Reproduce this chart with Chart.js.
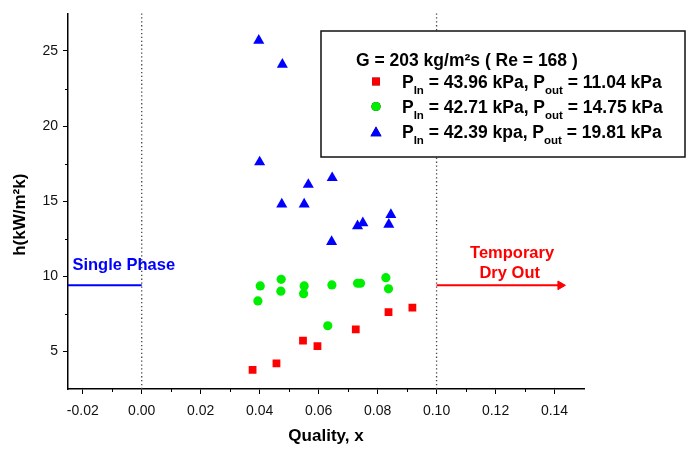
<!DOCTYPE html>
<html>
<head>
<meta charset="utf-8">
<script src="https://cdn.jsdelivr.net/npm/chart.js@4/dist/chart.umd.min.js"></script>
<style>
  html, body { margin: 0; padding: 0; background: #fff; }
  #wrap { width: 689px; height: 454px; position: relative; }
</style>
</head>
<body>
<div id="wrap"><canvas id="c" width="689" height="454"></canvas></div>
<script>
// Heat transfer coefficient vs. vapour quality, three inlet/outlet pressure sets
const redX   = [0.0376, 0.0457, 0.0547, 0.0596, 0.0726, 0.0837, 0.0918];
const redY   = [3.77, 4.21, 5.72, 5.35, 6.47, 7.61, 7.91];
const greenX = [0.0402, 0.0473, 0.0472, 0.0551, 0.0549, 0.0394, 0.0645, 0.0732, 0.0742, 0.0828, 0.0837, 0.0631];
const greenY = [9.36, 9.80, 9.01, 9.36, 8.84, 8.36, 9.43, 9.54, 9.54, 9.91, 9.17, 6.71];
const blueX  = [0.0397, 0.0477, 0.0400, 0.0646, 0.0565, 0.0475, 0.0551, 0.0845, 0.0750, 0.0732, 0.0838, 0.0644];
const blueY  = [25.7, 24.1, 17.6, 16.55, 16.1, 14.8, 14.8, 14.1, 13.55, 13.35, 13.45, 12.3];

// Regime boundaries and marker lines
const singlePhaseX = [-0.025, 0];
const dryOutX      = [0.10, 0.142];
const regimeLineY  = 9.4;
const boundaryX    = [0, 0.10];

// Axis ranges and ticks
const xRange = [-0.025, 0.15];
const yRange = [2.5, 27.5];
const xTicks = [-0.02, 0, 0.02, 0.04, 0.06, 0.08, 0.10, 0.12, 0.14];
const xMinor = [-0.01, 0.01, 0.03, 0.05, 0.07, 0.09, 0.11, 0.13];
const yTicks = [5, 10, 15, 20, 25];
const yMinor = [7.5, 12.5, 17.5, 22.5];

const xTitle = 'Quality, x';
const yTitle = 'h(kW/m²k)';
const legendTitle = 'G = 203 kg/m²s ( Re = 168 )';
const seriesLabels = [
  ['43.96 kPa', '11.04 kPa'],
  ['42.71 kPa', '14.75 kPa'],
  ['42.39 kpa', '19.81 kPa']
];

const FONT = "'Liberation Sans', Arial, sans-serif";
const RED = '#ff0000', GREEN = '#00ee00', BLUE = '#0000ff';

const pts = (xs, ys) => xs.map((x, i) => ({ x, y: ys[i] }));
const hline = (xs, y) => xs.map(x => ({ x, y }));

const datasets = [
  ...boundaryX.map(bx => ({
    data: [{ x: bx, y: yRange[1] }, { x: bx, y: yRange[0] }],
    showLine: true, borderColor: '#444', borderWidth: 1.3, borderDash: [1.3, 2.6],
    pointRadius: 0, clip: false
  })),
  {
    data: hline(singlePhaseX, regimeLineY), showLine: true,
    borderColor: BLUE, borderWidth: 2, pointRadius: 0
  },
  {
    data: hline(dryOutX, regimeLineY), showLine: true,
    borderColor: RED, borderWidth: 2,
    pointRadius: [0, 5], pointStyle: 'triangle', rotation: [0, 90],
    pointBackgroundColor: RED, pointBorderColor: RED, pointBorderWidth: 1
  },
  {
    data: pts(redX, redY), pointStyle: 'rect', pointRadius: 5.5,
    pointBackgroundColor: RED, pointBorderColor: RED, pointBorderWidth: 0
  },
  {
    data: pts(greenX, greenY), pointStyle: 'circle', pointRadius: 4.6,
    pointBackgroundColor: GREEN, pointBorderColor: GREEN, pointBorderWidth: 0
  },
  {
    data: pts(blueX, blueY), pointStyle: 'triangle', pointRadius: 6.4,
    pointBackgroundColor: BLUE, pointBorderColor: BLUE, pointBorderWidth: 0
  }
];

// Short minor tick marks between the labelled ticks, plus the vertical axis title
const axisExtras = {
  id: 'axisExtras',
  afterDraw(chart) {
    const { ctx, scales: { x, y } } = chart;
    ctx.save();
    ctx.strokeStyle = '#000';
    ctx.lineWidth = 1;
    xMinor.forEach(v => {
      const px = Math.round(x.getPixelForValue(v)) + 0.5;
      ctx.beginPath(); ctx.moveTo(px, x.top); ctx.lineTo(px, x.top + 3); ctx.stroke();
    });
    yMinor.forEach(v => {
      const py = Math.round(y.getPixelForValue(v)) + 0.5;
      ctx.beginPath(); ctx.moveTo(y.right, py); ctx.lineTo(y.right - 3, py); ctx.stroke();
    });
    ctx.translate(20, y.getPixelForValue(14.1));
    ctx.rotate(-Math.PI / 2);
    ctx.fillStyle = '#000';
    ctx.font = 'bold 17px ' + FONT;
    ctx.textAlign = 'center';
    ctx.textBaseline = 'middle';
    ctx.fillText(yTitle, 0, 0);
    ctx.restore();
  }
};

// Regime captions placed in data coordinates
const captions = {
  id: 'captions',
  afterDatasetsDraw(chart) {
    const { ctx, scales: { x, y } } = chart;
    ctx.save();
    ctx.font = 'bold 16.5px ' + FONT;
    ctx.textBaseline = 'middle';
    ctx.fillStyle = BLUE;
    ctx.textAlign = 'left';
    ctx.fillText('Single Phase', x.getPixelForValue(-0.0235), y.getPixelForValue(10.7));
    ctx.fillStyle = RED;
    ctx.textAlign = 'center';
    ctx.fillText('Temporary', x.getPixelForValue(0.1256), y.getPixelForValue(11.5));
    ctx.fillText('Dry Out', x.getPixelForValue(0.1248), y.getPixelForValue(10.2));
    ctx.restore();
  }
};

// Boxed legend with sub/superscripted pressure labels
const boxLegend = {
  id: 'boxLegend',
  afterDatasetsDraw(chart) {
    const { ctx } = chart;
    const bx = 321, by = 31, bw = 364, bh = 126;
    ctx.save();
    ctx.fillStyle = '#fff';
    ctx.fillRect(bx, by, bw, bh);
    ctx.strokeStyle = '#111';
    ctx.lineWidth = 1.5;
    ctx.strokeRect(bx, by, bw, bh);

    ctx.fillStyle = '#000';
    ctx.textBaseline = 'alphabetic';
    ctx.textAlign = 'left';
    ctx.font = 'bold 17.5px ' + FONT;
    ctx.fillText(legendTitle, 356, 65.5);

    const markers = datasets.slice(4);
    const rowY = [87.5, 112.5, 137.5];
    seriesLabels.forEach((lab, i) => {
      const ds = markers[i];
      const cy = rowY[i] - 6;
      Chart.helpers.drawPoint(ctx, {
        pointStyle: ds.pointStyle, radius: ds.pointRadius, rotation: 0, borderWidth: 0
      }, 376, cy + (ds.pointStyle === 'triangle' ? 1.5 : 0));
      ctx.fillStyle = ds.pointBackgroundColor;
      ctx.fill();
      ctx.fillStyle = '#000';
      const segs = [
        ['P', 0], ['In', 1], [' = ' + lab[0] + ', P', 0], ['out', 1], [' = ' + lab[1], 0]
      ];
      let tx = 402;
      segs.forEach(([t, sub]) => {
        ctx.font = (sub ? 'bold 11.5px ' : 'bold 17.5px ') + FONT;
        ctx.fillText(t, tx, rowY[i] + (sub ? 6.5 : 0));
        tx += ctx.measureText(t).width;
      });
    });
    ctx.restore();
  }
};

new Chart(document.getElementById('c'), {
  type: 'scatter',
  data: { datasets },
  options: {
    responsive: false,
    animation: false,
    events: [],
    layout: { padding: { top: 9, right: 105, left: 0, bottom: 0 } },
    plugins: { legend: { display: false }, tooltip: { enabled: false } },
    scales: {
      x: {
        type: 'linear', min: xRange[0], max: xRange[1],
        afterBuildTicks: s => { s.ticks = xTicks.map(v => ({ value: v })); },
        afterFit: s => { s.height = 65; },
        ticks: {
          color: '#111', padding: 9,
          font: { family: FONT, size: 14 },
          callback: v => v.toFixed(2)
        },
        grid: { drawOnChartArea: false, drawTicks: true, tickLength: 5, tickColor: '#000', tickWidth: 1 },
        border: { display: true, color: '#000', width: 1.5 },
        title: {
          display: true, text: xTitle, color: '#000',
          font: { family: FONT, size: 17, weight: 'bold' },
          padding: { top: 0, bottom: 7 }
        }
      },
      y: {
        type: 'linear', min: yRange[0], max: yRange[1],
        afterBuildTicks: s => { s.ticks = yTicks.map(v => ({ value: v })); },
        afterFit: s => { s.width = 68; },
        ticks: {
          color: '#111', padding: 5,
          font: { family: FONT, size: 14 }
        },
        grid: { drawOnChartArea: false, drawTicks: true, tickLength: 5, tickColor: '#000', tickWidth: 1 },
        border: { display: true, color: '#000', width: 1.5 },
        title: { display: false }
      }
    }
  },
  plugins: [axisExtras, captions, boxLegend]
});
</script>
</body>
</html>
